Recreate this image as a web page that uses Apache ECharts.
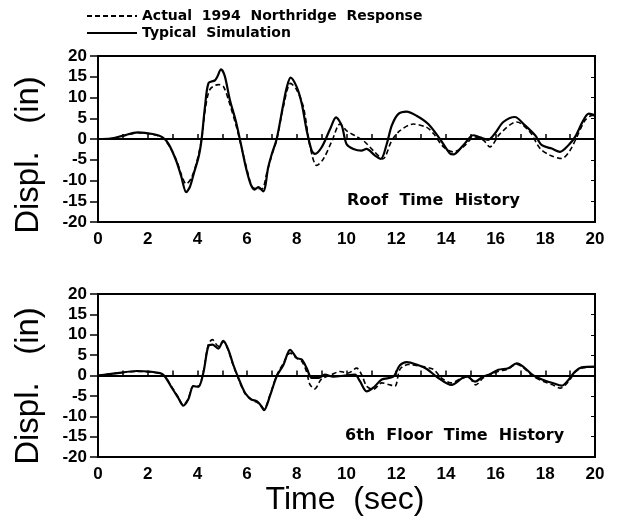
<!DOCTYPE html>
<html>
<head>
    <meta charset="UTF-8"/>
    <title>Roof / 6th Floor Time History</title>
    <style>
        html, body { margin: 0; padding: 0; background: #fff; }
        #chart { width: 618px; height: 523px; }
    </style>
</head>
<body>
<div id="chart"></div>
<script src="https://cdn.jsdelivr.net/npm/echarts@6/dist/echarts.min.js" type="text/javascript"></script>
<script type="text/javascript">
    // [time (sec), displacement (in)]
    const roofActual = [[0,0],[0.5,0.1],[1.0,0.7],[1.6,1.5],[2.2,1.1],[2.6,0.3],[2.85,-1.5],[3.15,-5],[3.35,-8.5],[3.55,-10.8],[3.75,-9.5],[3.97,-5.6],[4.17,0],[4.31,6.9],[4.5,11.9],[4.84,13.1],[5.04,12.7],[5.25,9.4],[5.55,3.4],[5.8,-2.6],[6.0,-7.5],[6.2,-11.5],[6.4,-12],[6.6,-12],[6.8,-8],[7.0,-3.8],[7.2,0],[7.45,7.5],[7.75,13.4],[8.0,11.8],[8.27,7.6],[8.54,-2],[8.8,-6.4],[9.07,-4.8],[9.42,-0.4],[9.74,3.6],[10.0,2],[10.34,0.8],[10.68,-0.4],[11.08,-2.8],[11.46,-4.8],[11.82,-0.4],[12.15,2],[12.69,3.6],[13.23,2.8],[13.5,1.3],[13.9,-1.9],[14.3,-3.1],[14.7,-1.9],[15.17,0.5],[15.51,-0.3],[15.77,-1.9],[16.18,1.3],[16.85,4.1],[17.38,1.7],[17.79,-2.3],[18.19,-3.9],[18.66,-4.7],[19.0,-2.7],[19.27,0.5],[19.6,4.5],[19.9,5.7],[20,5.5]];
    const roofSim = [[0,0],[0.5,0.1],[1.0,0.8],[1.6,1.6],[2.2,1.2],[2.6,0.4],[2.85,-1.3],[3.15,-5.3],[3.35,-9],[3.55,-12.8],[3.7,-11.5],[3.85,-8.4],[4.05,-4.3],[4.17,0],[4.3,7.5],[4.45,13.5],[4.7,14.1],[4.8,15],[4.95,16.8],[5.1,15.2],[5.3,9.6],[5.55,4.2],[5.75,-1.2],[5.95,-6.8],[6.15,-11],[6.3,-12.2],[6.45,-11.6],[6.65,-12.6],[6.85,-6.8],[7.0,-3.5],[7.19,0],[7.46,8.5],[7.6,12.5],[7.75,14.8],[8.0,12.5],[8.2,8.5],[8.4,2],[8.6,-2.8],[8.73,-3.6],[9.0,-2],[9.34,2.4],[9.58,5.2],[9.81,3.2],[10.0,-1.2],[10.28,-2.4],[10.6,-2.8],[10.8,-2.4],[11.15,-4],[11.38,-4.8],[11.62,-1.2],[11.82,3.2],[12.08,6],[12.42,6.6],[12.82,5.6],[13.29,3.6],[13.76,0],[14.16,-3.5],[14.3,-3.7],[14.7,-1.5],[15.1,0.9],[15.37,0.4],[15.7,-0.2],[15.98,1.4],[16.31,4.1],[16.78,5.3],[17.11,3.7],[17.59,0.9],[17.86,-1.5],[18.26,-2.3],[18.59,-3.1],[18.93,-1.5],[19.2,0.5],[19.53,4.5],[19.75,6.1],[20,5.7]];
    const floorActual = [[0,0],[0.68,0.5],[1.56,1.0],[2.5,0.5],[2.7,-0.3],[2.97,-2.8],[3.23,-5.3],[3.43,-7.2],[3.63,-5.7],[3.84,-2.5],[4.04,-2.6],[4.24,1],[4.44,7.6],[4.6,8.8],[4.84,7.2],[5.04,8.3],[5.24,6.2],[5.44,2.5],[5.65,-0.8],[5.92,-4.5],[6.18,-6],[6.4,-6.6],[6.52,-7],[6.68,-8.2],[6.92,-4.8],[7.19,0],[7.46,3],[7.73,5.5],[8.0,4.2],[8.2,3.5],[8.4,0.8],[8.52,-2.1],[8.72,-3.3],[8.99,-0.9],[9.4,0.2],[9.74,1],[10.07,0.6],[10.41,1.8],[10.61,0.2],[10.81,-2.6],[11.08,-3.4],[11.42,-1.8],[11.69,-2.2],[11.95,-2.6],[12.15,1.5],[12.49,2.7],[12.96,2.3],[13.5,1.5],[13.8,-0.5],[14.2,-1.8],[14.6,-0.8],[14.9,-0.3],[15.2,-2.3],[15.5,-0.6],[15.8,0.2],[16.1,1.0],[16.5,1.6],[16.85,2.8],[17.1,2.0],[17.5,-0.2],[17.9,-1.4],[18.3,-2.3],[18.6,-3.1],[18.93,-1.5],[19.2,0.8],[19.46,1.8],[20,2.1]];
    const floorSim = [[0,0],[0.68,0.5],[1.56,1.1],[2.5,0.6],[2.7,-0.3],[2.97,-3],[3.23,-5.5],[3.43,-7.4],[3.63,-5.9],[3.84,-2.6],[4.04,-2.8],[4.24,0.7],[4.44,7.2],[4.61,7.6],[4.84,6.6],[5.04,8.5],[5.24,6.4],[5.44,2.7],[5.65,-0.6],[5.92,-4.3],[6.18,-5.9],[6.39,-6.3],[6.52,-7.1],[6.68,-8.5],[6.92,-5],[7.19,-0.2],[7.46,2.6],[7.73,6.3],[8.0,4.3],[8.2,3.9],[8.4,1.8],[8.6,-0.6],[8.87,-0.6],[9.13,0.2],[9.47,-0.3],[9.94,0],[10.34,0.2],[10.54,-1.4],[10.81,-3.9],[11.08,-3],[11.42,-1],[11.88,-0.3],[12.15,2.5],[12.42,3.3],[12.82,2.7],[13.23,1.6],[13.63,-0.3],[14.23,-2.3],[14.64,-0.7],[14.84,-0.2],[15.17,-1.5],[15.51,-0.2],[15.77,0.3],[16.11,1.4],[16.51,1.8],[16.85,3.0],[17.11,2.2],[17.52,0],[17.92,-1.1],[18.32,-1.9],[18.66,-2.5],[18.93,-1.1],[19.2,1],[19.46,2],[20,2.2]];
    const seriesNames = ["Actual  1994  Northridge  Response", "Typical  Simulation"];
    const panelTitles = ["Roof  Time  History", "6th  Floor  Time  History"];

    const chart = echarts.init(document.getElementById("chart"), null, {renderer: "canvas"});
    const boldFont = {color: "#000", fontFamily: "Liberation Sans", fontWeight: "bold", fontSize: 17};

    function xAxisFor(gridIndex) {
        return {
            type: "value", gridIndex: gridIndex, min: 0, max: 20, interval: 1,
            axisLine: {lineStyle: {color: "#000", width: 2}},
            axisTick: {inside: true, length: 5, lineStyle: {color: "#000", width: 1.5}},
            axisLabel: Object.assign({margin: 9, formatter: function (v) { return v % 2 === 0 ? v : ""; }}, boldFont),
            splitLine: {show: false}
        };
    }
    function yAxisFor(gridIndex) {
        return {
            type: "value", gridIndex: gridIndex, min: -20, max: 20, interval: 5,
            axisLine: {onZero: false, lineStyle: {color: "#000", width: 2}},
            axisTick: {length: 8, lineStyle: {color: "#000", width: 1.5}},
            axisLabel: Object.assign({margin: 11}, boldFont),
            splitLine: {show: false}
        };
    }
    function rightAxisFor(gridIndex) {
        return {
            type: "value", gridIndex: gridIndex, position: "right", min: -20, max: 20, interval: 5,
            axisLine: {show: true, onZero: false, lineStyle: {color: "#000", width: 1.5}},
            axisTick: {inside: true, length: 4, lineStyle: {color: "#000", width: 1}},
            axisLabel: {show: false},
            splitLine: {show: false}
        };
    }
    const zeroLine = {
        silent: true, symbol: "none", label: {show: false},
        lineStyle: {color: "#000", width: 2, type: "solid"},
        data: [{yAxis: 0}]
    };
    function lineSeries(name, data, idx, dashed) {
        return {
            name: name, type: "line", data: data,
            xAxisIndex: idx, yAxisIndex: idx * 2,
            showSymbol: false, symbol: "none", smooth: 0.3,
            color: "#000",
            lineStyle: dashed ? {color: "#000", width: 1.6, type: [5, 3]} : {color: "#000", width: 2.2},
            markLine: dashed ? zeroLine : undefined,
            z: dashed ? 3 : 4
        };
    }

    const option = {
        backgroundColor: "#fff",
        animation: false,
        legend: {
            left: 86, top: 9, padding: 0, orient: "vertical",
            itemWidth: 50, itemHeight: 14, itemGap: 3,
            itemStyle: {opacity: 0},
            data: seriesNames,
            textStyle: {color: "#000", fontFamily: "DejaVu Sans", fontWeight: "bold", fontSize: 14}
        },
        grid: [
            {left: 98, right: 23, top: 56, height: 166, show: true, borderColor: "#000", borderWidth: 2},
            {left: 98, right: 23, top: 294, height: 163, show: true, borderColor: "#000", borderWidth: 2}
        ],
        xAxis: [xAxisFor(0), xAxisFor(1)],
        yAxis: [yAxisFor(0), rightAxisFor(0), yAxisFor(1), rightAxisFor(1)],
        series: [
            lineSeries(seriesNames[0], roofActual, 0, true),
            lineSeries(seriesNames[1], roofSim, 0, false),
            lineSeries(seriesNames[0], floorActual, 1, true),
            lineSeries(seriesNames[1], floorSim, 1, false)
        ],
        graphic: [
            {type: "text", left: 347, top: 193, style: {text: panelTitles[0], fill: "#000", font: "bold 16px 'DejaVu Sans'"}},
            {type: "text", left: 345, top: 428, style: {text: panelTitles[1], fill: "#000", font: "bold 16px 'DejaVu Sans'"}},
            {type: "text", x: 29, y: 155, rotation: Math.PI / 2,
                style: {text: "Displ.   (in)", fill: "#000", font: "33px 'Liberation Sans'", align: "center", verticalAlign: "middle"}},
            {type: "text", x: 29, y: 386, rotation: Math.PI / 2,
                style: {text: "Displ.   (in)", fill: "#000", font: "33px 'Liberation Sans'", align: "center", verticalAlign: "middle"}},
            {type: "text", x: 345, y: 500,
                style: {text: "Time  (sec)", fill: "#000", font: "32px 'Liberation Sans'", align: "center", verticalAlign: "middle"}}
        ]
    };
    chart.setOption(option);
</script>
</body>
</html>
